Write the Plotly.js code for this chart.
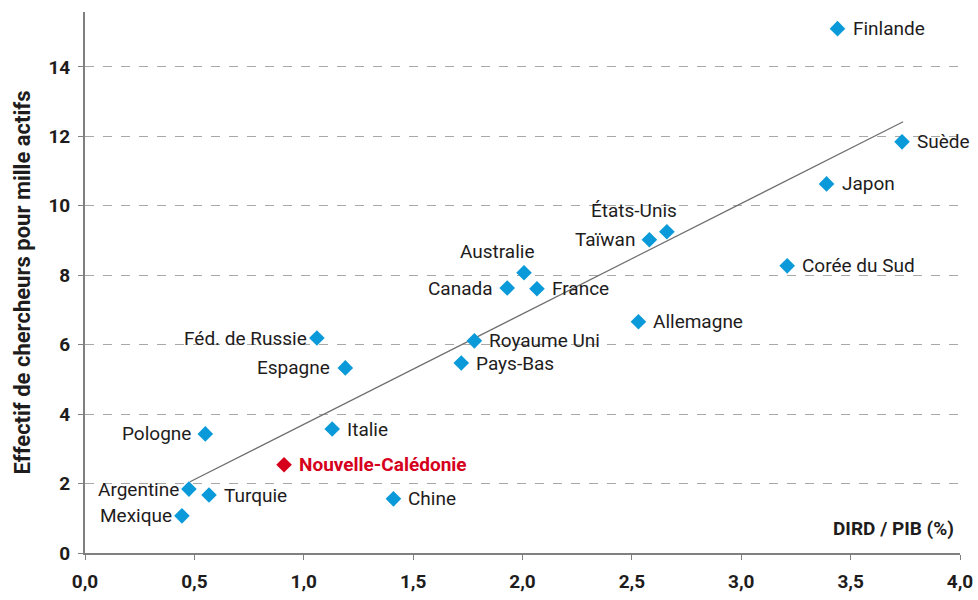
<!DOCTYPE html>
<html>
<head>
<meta charset="utf-8">
<script src="https://cdn.plot.ly/plotly-3.0.1.min.js"></script>
<style>
html,body{margin:0;padding:0;background:#fff;}
#chart{width:978px;height:600px;}
</style>
</head>
<body>
<div id="chart"></div>
<script>
// Data
const countries = ["Finlande","Suède","Japon","États-Unis","Taïwan","Corée du Sud","Australie","Canada","France","Allemagne","Féd. de Russie","Royaume Uni","Espagne","Pays-Bas","Italie","Pologne","Argentine","Turquie","Chine","Mexique"];
const dirdPib =   [3.44, 3.735, 3.39, 2.66, 2.58, 3.21, 2.007, 1.93, 2.066, 2.53, 1.06, 1.78, 1.19, 1.72, 1.13, 0.55, 0.475, 0.567, 1.41, 0.443];
const chercheurs = [15.1, 11.84, 10.63, 9.25, 9.02, 8.27, 8.07, 7.63, 7.61, 6.66, 6.19, 6.11, 5.33, 5.47, 3.57, 3.43, 1.84, 1.67, 1.56, 1.07];

const ncName = ["Nouvelle-Calédonie"];
const ncX = [0.91];
const ncY = [2.54];

const trendX = [0.48, 3.74];
const trendY = [2.05, 12.42];

const xTicks = [0, 0.5, 1.0, 1.5, 2.0, 2.5, 3.0, 3.5, 4.0];
const xTickLabels = ["0,0","0,5","1,0","1,5","2,0","2,5","3,0","3,5","4,0"];
const yTicks = [0, 2, 4, 6, 8, 10, 12, 14];

// Styles
const FONT = "'Liberation Sans Narrow', 'Arial Narrow', 'Roboto', sans-serif";
const TXT = "#1e1c1c";
const BLUE = "#0a9ad9";
const RED = "#d6001c";
// label placement: [xanchor, xshift(px), yshift(px)]
const labelPlace = {
  "Finlande":["left",13,0],"Suède":["left",13,0],"Japon":["left",13,0],"États-Unis":["center",-33,21],
  "Taïwan":["right",-12,0],"Corée du Sud":["left",13,0],"Australie":["center",-27,21],"Canada":["right",-12,0],
  "France":["left",13,0],"Allemagne":["left",13,0],"Féd. de Russie":["right",-8,0],"Royaume Uni":["left",13,0],
  "Espagne":["right",-13,0],"Pays-Bas":["left",13,0],"Italie":["left",13,0],"Pologne":["right",-12,0],
  "Argentine":["right",-8,0],"Turquie":["left",13,0],"Chine":["left",13,0],"Mexique":["right",-8,0]
};

const traces = [
  {
    x: trendX, y: trendY, mode: "lines", type: "scatter",
    line: {color: "#6e6e6e", width: 1.2}, hoverinfo: "skip", showlegend: false
  },
  {
    x: dirdPib, y: chercheurs, mode: "markers", type: "scatter",
    marker: {symbol: "diamond", size: 12, color: BLUE},
    cliponaxis: false, showlegend: false
  },
  {
    x: ncX, y: ncY, mode: "markers", type: "scatter",
    marker: {symbol: "diamond", size: 12, color: RED},
    cliponaxis: false, showlegend: false
  }
];

const annotations = countries.map((c, i) => {
  const p = labelPlace[c];
  return {
    xref: "x", yref: "y", x: dirdPib[i], y: chercheurs[i],
    text: c, showarrow: false, xanchor: p[0], yanchor: "middle",
    xshift: p[1], yshift: p[2],
    font: {family: FONT, size: 19, color: TXT}
  };
});
ncName.forEach((n, i) => {
  annotations.push({
    xref: "x", yref: "y", x: ncX[i], y: ncY[i],
    text: "<b>" + n + "</b>", showarrow: false, xanchor: "left", yanchor: "middle",
    xshift: 13, yshift: 0,
    font: {family: FONT, size: 19, color: RED}
  });
});
annotations.push({
  xref: "paper", yref: "paper", x: 0.995, y: 0.02, xanchor: "right", yanchor: "bottom",
  text: "<b>DIRD / PIB (%)</b>", showarrow: false,
  font: {family: FONT, size: 19, color: TXT}
});

const layout = {
  width: 978, height: 600,
  margin: {l: 85, r: 18, t: 12, b: 47},
  paper_bgcolor: "#fff", plot_bgcolor: "#fff",
  font: {family: FONT, color: TXT},
  xaxis: {
    range: [0, 4.0], tickvals: xTicks, ticktext: xTickLabels,
    showgrid: false, zeroline: false,
    showline: true, linecolor: "#808080", linewidth: 2,
    ticks: "outside", ticklen: 5, tickcolor: "#808080", tickwidth: 1,
    tickfont: {family: FONT, size: 19, color: TXT, weight: "bold"},
    ticklabelstandoff: 5
  },
  yaxis: {
    range: [0, 15.58], tickvals: yTicks,
    showgrid: true, gridcolor: "#a8a8a8", griddash: "dash", gridwidth: 1,
    zeroline: false,
    showline: true, linecolor: "#808080", linewidth: 2,
    ticks: "outside", ticklen: 5, tickcolor: "#808080", tickwidth: 1,
    tickfont: {family: FONT, size: 19, color: TXT, weight: "bold"},
    ticklabelstandoff: 4,
    title: {text: "<b>Effectif de chercheurs pour mille actifs</b>", font: {family: FONT, size: 22, color: TXT}, standoff: 12}
  },
  annotations: annotations
};

Plotly.newPlot("chart", traces, layout, {displayModeBar: false, staticPlot: true});
</script>
</body>
</html>
